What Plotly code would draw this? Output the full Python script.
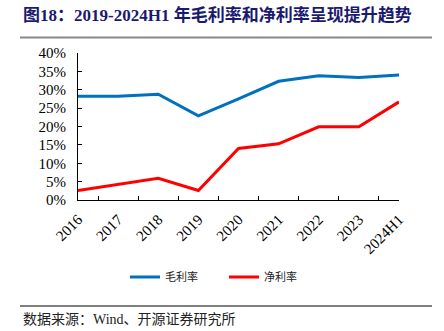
import plotly.graph_objects as go

categories = ["2016", "2017", "2018", "2019", "2020", "2021", "2022", "2023", "2024H1"]
gross_margin = [28.2, 28.2, 28.8, 22.9, 27.5, 32.3, 33.8, 33.3, 34.0]
net_margin = [2.6, 4.3, 5.9, 2.6, 14.0, 15.3, 19.9, 19.9, 26.7]
y_ticks = [0, 5, 10, 15, 20, 25, 30, 35, 40]
y_labels = [f"{v}%" for v in y_ticks]

W, H = 444, 331
L, R, T, B = 78, 45, 53, 131
PW, PH = W - L - R, H - T - B

def px(x):
    return (x - L) / PW

def py(y):
    return (H - B - y) / PH

serif = "Liberation Serif, Times New Roman, serif"
cjk = "Noto Sans CJK SC"

fig = go.Figure()
fig.add_trace(go.Scatter(x=categories, y=gross_margin, mode="lines", name="毛利率",
                         line=dict(color="#0070C0", width=3)))
fig.add_trace(go.Scatter(x=categories, y=net_margin, mode="lines", name="净利率",
                         line=dict(color="#FF0000", width=3)))

fig.update_layout(
    width=W, height=H,
    margin=dict(l=L, r=R, t=T, b=B),
    paper_bgcolor="white", plot_bgcolor="white",
    font=dict(family=serif, size=13, color="black"),
    showlegend=True,
    legend=dict(orientation="h", x=px(224), y=py(277), xanchor="center", yanchor="middle",
                font=dict(family=cjk, size=11, color="#222"), itemwidth=30,
                entrywidth=54, bgcolor="rgba(0,0,0,0)"),
    xaxis=dict(type="category", showline=True, linecolor="black", linewidth=1,
               ticks="inside", ticklen=4, tickcolor="black", tickson="boundaries",
               tickangle=-45, showgrid=False, zeroline=False, ticklabelstandoff=4,
               tickfont=dict(family=serif, size=15)),
    yaxis=dict(range=[0, 40], tickvals=y_ticks, ticktext=y_labels, showline=True,
               linecolor="black", linewidth=1, ticks="inside", ticklen=4,
               tickcolor="black", showgrid=False, zeroline=False,
               ticklabelstandoff=8, tickfont=dict(family=serif, size=15)),
)

fig.add_annotation(text="<b>图18：2019-2024H1 年毛利率和净利率呈现提升趋势</b>",
                   xref="paper", yref="paper", x=px(21), y=py(15),
                   xanchor="left", yanchor="middle", showarrow=False,
                   font=dict(family="Liberation Serif, Noto Sans CJK SC", size=17, color="#1a1a6e"))
fig.add_shape(type="line", xref="paper", yref="paper", x0=px(20), x1=px(432),
              y0=py(37.5), y1=py(37.5), line=dict(color="#888888", width=2))
fig.add_shape(type="line", xref="paper", yref="paper", x0=px(20), x1=px(432),
              y0=py(306), y1=py(306), line=dict(color="black", width=1))
fig.add_annotation(text="数据来源：Wind、开源证券研究所",
                   xref="paper", yref="paper", x=px(21), y=py(319),
                   xanchor="left", yanchor="middle", showarrow=False,
                   font=dict(family="Liberation Serif, Noto Sans CJK SC", size=14, color="#222"))

fig.write_html("out.html")
